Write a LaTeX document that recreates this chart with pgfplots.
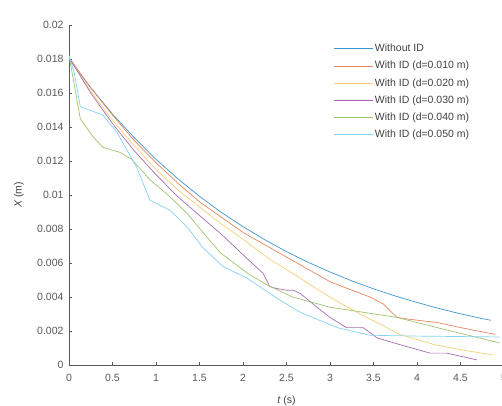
\documentclass[border=0pt]{standalone}
\usepackage{pgfplots}
\pgfplotsset{compat=1.18}
\usepackage{fontspec}
\setmainfont{Liberation Sans}
\usetikzlibrary{calc}
\definecolor{c1}{rgb}{0,0.447,0.741}
\definecolor{c2}{rgb}{0.85,0.325,0.098}
\definecolor{c3}{rgb}{0.929,0.694,0.125}
\definecolor{c4}{rgb}{0.494,0.184,0.556}
\definecolor{c5}{rgb}{0.466,0.674,0.188}
\definecolor{c6}{rgb}{0.301,0.745,0.933}
\begin{document}
\begin{tikzpicture}
\begin{axis}[
  scale only axis, width=435pt, height=340pt,
  xmin=0, xmax=5, ymin=0, ymax=0.02,
  axis lines=left, axis line style={-, black!65},
  tick align=inside, major tick length=3pt,
  tick style={black!65},
  xtick={0,0.5,1,1.5,2,2.5,3,3.5,4,4.5,5},
  ytick={0,0.002,0.004,0.006,0.008,0.01,0.012,0.014,0.016,0.018,0.02},
  scaled y ticks=false,
  /pgf/number format/assume math mode=true,
  yticklabel style={/pgf/number format/fixed, /pgf/number format/precision=3, font=\fontsize{10.5}{12}\selectfont, text=black!65, xshift=-2pt},
  xticklabel style={font=\fontsize{10.5}{12}\selectfont, text=black!65, yshift=-6pt},
  xlabel={\textit{t} (s)}, ylabel={\textit{X} (m)},
  label style={font=\fontsize{10.5}{12}\selectfont, text=black!75},
  xlabel style={at={(axis description cs:0.5,-0.106)}, anchor=center},
  ylabel style={at={(axis description cs:-0.115,0.5)}, anchor=center},
  legend style={at={(0.607,0.95)}, anchor=north west, draw=none, fill=none,
    font=\fontsize{10.5}{12}\selectfont, text=black!75, row sep=4pt, inner sep=0pt},
  legend cell align=left,
  legend image code/.code={\draw[#1] (0pt,0pt) -- (39pt,0pt);},
  every axis plot/.append style={line width=0.7pt},
]
\addplot[c1!75!white] coordinates {(0,0.0180) (0.25,0.01631) (0.5,0.01476) (0.75,0.01337) (1,0.01210) (1.25,0.01096) (1.5,0.00992) (1.75,0.00898) (2,0.00814) (2.25,0.00737) (2.5,0.00667) (2.75,0.00604) (3,0.00547) (3.25,0.00495) (3.5,0.00448) (3.75,0.00406) (4,0.00368) (4.25,0.00333) (4.5,0.00301) (4.75,0.00273) (4.85,0.00263)};
\addlegendentry{Without ID}
\addplot[c2!70!white] coordinates {(0,0.0181) (0.25,0.0163) (0.5,0.0147) (0.75,0.0132) (1,0.0119) (1.25,0.0107) (1.5,0.0096) (1.75,0.0087) (2,0.0078) (2.31,0.0069) (2.69,0.0058) (3,0.0049) (3.15,0.0046) (3.46,0.0040) (3.61,0.0036) (3.77,0.0028) (3.9,0.0027) (4.23,0.0025) (4.5,0.0022) (4.9,0.0018)};
\addlegendentry{With ID (d=0.010 m)}
\addplot[c3!60!white] coordinates {(0,0.0181) (0.25,0.0161) (0.5,0.0144) (0.75,0.0129) (1,0.0115) (1.25,0.0103) (1.5,0.0093) (1.75,0.0083) (2,0.0074) (2.31,0.0062) (2.6,0.0053) (2.9,0.0043) (3.2,0.0034) (3.5,0.0026) (3.8,0.0018) (4.2,0.0012) (4.5,0.0009) (4.87,0.0006)};
\addlegendentry{With ID (d=0.020 m)}
\addplot[c4!70!white] coordinates {(0,0.0181) (0.25,0.0160) (0.5,0.0142) (0.75,0.0126) (1,0.0112) (1.25,0.0099) (1.5,0.0088) (1.75,0.0077) (2.08,0.0061) (2.23,0.0054) (2.31,0.0046) (2.39,0.0045) (2.5,0.0044) (2.58,0.0044) (2.66,0.0042) (2.85,0.0034) (3,0.0028) (3.19,0.0022) (3.38,0.0022) (3.46,0.0019) (3.54,0.0016) (3.8,0.0012) (4.15,0.0007) (4.34,0.0007) (4.69,0.0003)};
\addlegendentry{With ID (d=0.030 m)}
\addplot[c5!70!white] coordinates {(0,0.0182) (0.13,0.0145) (0.28,0.0134) (0.39,0.0128) (0.59,0.0125) (0.72,0.0121) (0.93,0.0109) (1.16,0.0099) (1.36,0.0089) (1.54,0.0078) (1.74,0.0066) (2.05,0.0054) (2.28,0.0047) (2.57,0.0040) (3,0.0034) (3.77,0.0028) (4.23,0.0022) (4.95,0.0013)};
\addlegendentry{With ID (d=0.040 m)}
\addplot[c6!70!white] coordinates {(0,0.0182) (0.06,0.0172) (0.13,0.0152) (0.39,0.0147) (0.55,0.0137) (0.78,0.0116) (0.93,0.0097) (1.16,0.0091) (1.36,0.0081) (1.54,0.0069) (1.77,0.0058) (2.05,0.0051) (2.31,0.0042) (2.43,0.0038) (2.66,0.0031) (3.08,0.0022) (3.46,0.00175) (4,0.0017) (4.95,0.00165)};
\addlegendentry{With ID (d=0.050 m)}
\end{axis}
\pgfresetboundingbox
\useasboundingbox ($(current axis.south west)+(-69pt,-40pt)$) rectangle ($(current axis.north east)+(-2pt,25pt)$);
\end{tikzpicture}
\end{document}
